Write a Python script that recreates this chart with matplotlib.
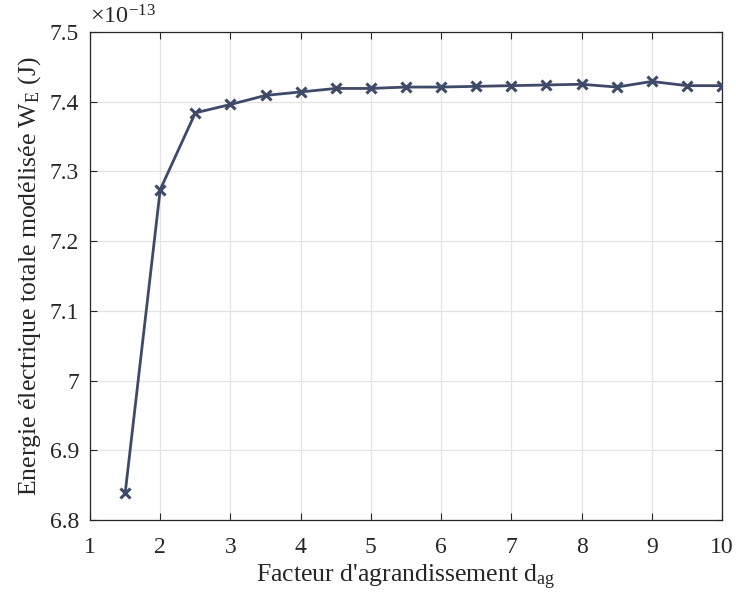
import matplotlib
matplotlib.use('Agg')
import matplotlib.pyplot as plt
from matplotlib.ticker import FuncFormatter

# energie modelisee (en 1e-13 J) selon le facteur d'agrandissement
d_ag = [1.5, 2, 2.5, 3, 3.5, 4, 4.5, 5, 5.5, 6, 6.5, 7, 7.5, 8, 8.5, 9, 9.5, 10]
W_E = [6.838, 7.274, 7.384, 7.396, 7.409, 7.414, 7.419, 7.419, 7.421, 7.421,
       7.422, 7.423, 7.424, 7.425, 7.421, 7.429, 7.423, 7.423]

x_ticks = list(range(1, 11))
y_ticks = [6.8, 6.9, 7.0, 7.1, 7.2, 7.3, 7.4, 7.5]

plt.rcParams['font.family'] = ['Liberation Serif', 'DejaVu Serif']
plt.rcParams['mathtext.fontset'] = 'custom'
plt.rcParams['mathtext.rm'] = 'Liberation Serif'
plt.rcParams['mathtext.it'] = 'Liberation Serif:italic'

fig = plt.figure(figsize=(7.36, 6.01), dpi=100)
ax = fig.add_axes([0.1223, 0.1348, 0.8587, 0.812])

ax.plot(d_ag, W_E, color='#3e4a68', lw=2, marker='x', ms=7, mew=2.2, zorder=3)

ax.set_xlim(1, 10)
ax.set_ylim(6.8, 7.5)
ax.set_xticks(x_ticks)
ax.set_yticks(y_ticks)
ax.yaxis.set_major_formatter(FuncFormatter(lambda v, p: '%g' % round(v, 2)))
ax.grid(True, color='#e3e3e3', lw=0.9)
ax.set_axisbelow(True)

ax.tick_params(direction='in', length=5, width=0.8, colors='#262626',
               labelsize=17, top=True, right=True)
ax.tick_params(axis='x', pad=12)
ax.tick_params(axis='y', pad=8)
for s in ax.spines.values():
    s.set_color('#262626')
    s.set_linewidth(0.9)

ax.set_xlabel("Facteur d'agrandissement d$_\\mathrm{ag}$", fontsize=18.5,
              color='#262626', labelpad=4)
ax.set_ylabel('Energie électrique totale modélisée W$_\\mathrm{E}$ (J)', fontsize=18.5,
              color='#262626', labelpad=5)
ax.text(0.0, 1.008, r'$\times10^{\mathrm{-13}}$', transform=ax.transAxes,
        fontsize=17.5, color='#262626', ha='left', va='bottom')

fig.savefig('out.png', dpi=100)
